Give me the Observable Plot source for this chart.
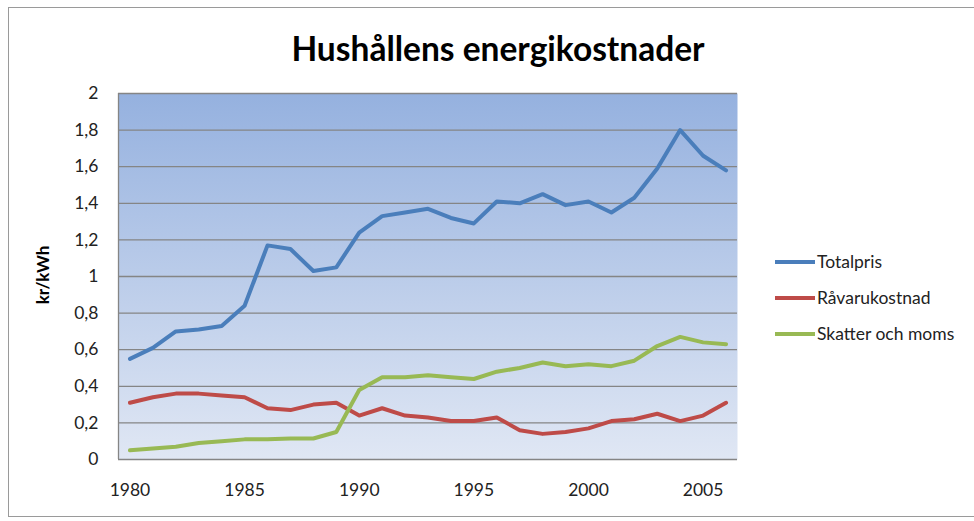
<!DOCTYPE html>
<html>
<head>
<meta charset="utf-8">
<script src="https://cdn.jsdelivr.net/npm/d3@7"></script>
<script src="https://cdn.jsdelivr.net/npm/@observablehq/plot@0.6"></script>
<style>
  html, body { margin: 0; padding: 0; background: #fff; }
</style>
</head>
<body>
<div id="chart"></div>
<script>
const title = "Hushållens energikostnader";
const yLabel = "kr/kWh";
const years = [1980,1981,1982,1983,1984,1985,1986,1987,1988,1989,1990,1991,1992,1993,1994,1995,1996,1997,1998,1999,2000,2001,2002,2003,2004,2005,2006];
const totalpris = [0.55,0.61,0.70,0.71,0.73,0.84,1.17,1.15,1.03,1.05,1.24,1.33,1.35,1.37,1.32,1.29,1.41,1.40,1.45,1.39,1.41,1.35,1.43,1.59,1.80,1.66,1.58];
const ravarukostnad = [0.31,0.34,0.36,0.36,0.35,0.34,0.28,0.27,0.30,0.31,0.24,0.28,0.24,0.23,0.21,0.21,0.23,0.16,0.14,0.15,0.17,0.21,0.22,0.25,0.21,0.24,0.31];
const skatter = [0.05,0.06,0.07,0.09,0.10,0.11,0.11,0.115,0.115,0.15,0.38,0.45,0.45,0.46,0.45,0.44,0.48,0.50,0.53,0.51,0.52,0.51,0.54,0.62,0.67,0.64,0.63];
const seriesNames = ["Totalpris", "Råvarukostnad", "Skatter och moms"];
const seriesColors = ["#4a7ebb", "#be4b48", "#98b954"];
const xTicks = [1980, 1985, 1990, 1995, 2000, 2005];
const yTicks = [0, 0.2, 0.4, 0.6, 0.8, 1, 1.2, 1.4, 1.6, 1.8, 2];

const seriesValues = [totalpris, ravarukostnad, skatter];
const data = seriesNames.flatMap((name, s) =>
  years.map((year, i) => ({ series: name, year, value: seriesValues[s][i] }))
);

const font = "Lato, 'Open Sans', sans-serif";

const chart = Plot.plot({
  width: 974,
  height: 521,
  marginLeft: 118,
  marginRight: 237,
  marginTop: 93,
  marginBottom: 62,
  style: { fontFamily: font, fontSize: "17px", color: "#222", background: "#fff", overflow: "visible" },
  x: { type: "linear", domain: [years[0] - 0.5, years[years.length - 1] + 0.5] },
  y: { domain: [0, 2] },
  color: { domain: seriesNames, range: seriesColors },
  marks: [
    Plot.frame({ fill: "url(#plotbg)", stroke: "none" }),
    Plot.ruleY(yTicks, { stroke: "#858585", strokeWidth: 1.3 }),
    Plot.ruleX([years[0] - 0.5], { stroke: "#858585", strokeWidth: 1.3 }),
    Plot.axisX({ ticks: xTicks, tickSize: 0, tickPadding: 24, tickFormat: d => String(d), label: null, fontSize: 17.5 }),
    Plot.axisY({ ticks: yTicks, tickSize: 0, tickPadding: 20, tickFormat: d => String(d).replace(".", ","), label: null, fontSize: 17.5 }),
    Plot.line(data, { x: "year", y: "value", z: "series", stroke: "series", strokeWidth: 4, strokeLinejoin: "round", strokeLinecap: "round" })
  ]
});

const svg = d3.select(chart);
const defs = svg.insert("defs", ":first-child");
const grad = defs.append("linearGradient").attr("id", "plotbg").attr("x1", 0).attr("y1", 0).attr("x2", 0).attr("y2", 1);
grad.append("stop").attr("offset", "0%").attr("stop-color", "#95b1df");
grad.append("stop").attr("offset", "100%").attr("stop-color", "#e0e7f4");

// outer chart border
svg.append("rect").attr("x", 8.5).attr("y", 7.5).attr("width", 975).attr("height", 509)
  .attr("fill", "none").attr("stroke", "#9a9a9a").attr("stroke-width", 1);

// title
svg.append("text").attr("x", 498).attr("y", 61).attr("text-anchor", "middle")
  .attr("font-family", font).attr("font-weight", "bold").attr("font-size", 33.5).attr("fill", "#000")
  .text(title);

// y axis label
svg.append("text").attr("transform", "translate(49,275) rotate(-90)").attr("text-anchor", "middle")
  .attr("font-family", font).attr("font-weight", "bold").attr("font-size", 17).attr("fill", "#000")
  .text(yLabel);

// legend
const legendY = [262, 298, 334];
const leg = svg.append("g").attr("text-anchor", "start");
seriesNames.forEach((name, i) => {
  leg.append("line").attr("x1", 775).attr("x2", 815).attr("y1", legendY[i]).attr("y2", legendY[i])
    .attr("stroke", seriesColors[i]).attr("stroke-width", 4);
  leg.append("text").attr("x", 817).attr("y", legendY[i]).attr("dy", "0.35em").attr("text-anchor", "start")
    .attr("font-family", font).attr("font-size", 17.5).attr("fill", "#222").text(name);
});

document.getElementById("chart").appendChild(chart);
</script>
</body>
</html>
